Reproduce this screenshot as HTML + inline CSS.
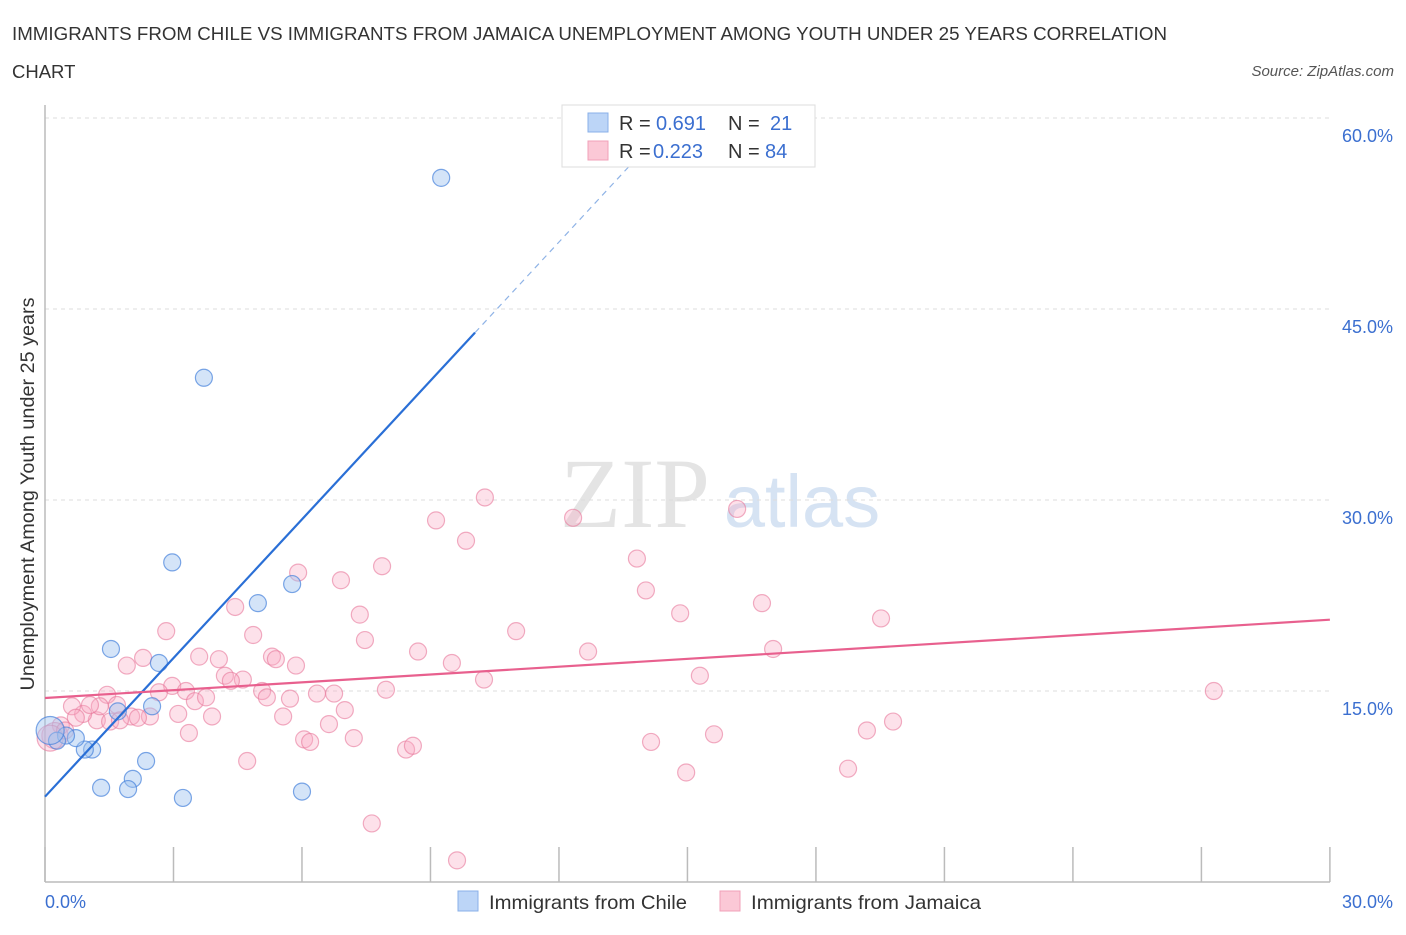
<!DOCTYPE html>
<html><head><meta charset="utf-8"><style>
body{margin:0;background:#fff;font-family:"Liberation Sans",sans-serif;}
svg text{font-family:"Liberation Sans",sans-serif;}
</style></head><body>
<svg width="1406" height="930" xmlns="http://www.w3.org/2000/svg">
<text x="12" y="40" font-size="18.5" fill="#333" textLength="1155" lengthAdjust="spacingAndGlyphs">IMMIGRANTS FROM CHILE VS IMMIGRANTS FROM JAMAICA UNEMPLOYMENT AMONG YOUTH UNDER 25 YEARS CORRELATION</text>
<text x="12" y="78" font-size="18.5" fill="#333">CHART</text>
<text x="1394" y="76" font-size="15" fill="#555" font-style="italic" text-anchor="end">Source: ZipAtlas.com</text>
<text x="635" y="527" font-size="100" fill="#e4e4e4" text-anchor="middle" style="font-family:'Liberation Serif',serif">ZIP</text>
<text x="802" y="527" font-size="74" fill="#d6e3f3" text-anchor="middle">atlas</text>
<g id="grid"></g>
<g id="axes"></g>
<g id="pts"></g>
<g id="lines"></g>
<text transform="translate(34,494) rotate(-90)" font-size="19" fill="#333" text-anchor="middle" textLength="393" lengthAdjust="spacingAndGlyphs">Unemployment Among Youth under 25 years</text>
<text x="45" y="908" font-size="18" fill="#3b6fd0">0.0%</text>
<text x="1393" y="908" font-size="18" fill="#3b6fd0" text-anchor="end">30.0%</text>
<g>
<rect x="562" y="105" width="253" height="62" fill="#fff" stroke="#ddd"/>
<rect x="588" y="113" width="20" height="19" fill="#bcd5f7" stroke="#8ab0e8"/>
<rect x="588" y="141" width="20" height="19" fill="#fbc8d6" stroke="#f0a0b8"/>
<text x="619" y="130" font-size="20" fill="#333">R =</text>
<text x="656" y="130" font-size="20" fill="#3b6fd0">0.691</text>
<text x="728" y="130" font-size="20" fill="#333">N =</text>
<text x="770" y="130" font-size="20" fill="#3b6fd0">21</text>
<text x="619" y="158" font-size="20" fill="#333">R =</text>
<text x="653" y="158" font-size="20" fill="#3b6fd0">0.223</text>
<text x="728" y="158" font-size="20" fill="#333">N =</text>
<text x="765" y="158" font-size="20" fill="#3b6fd0">84</text>
</g>
<g>
<rect x="458" y="891" width="20" height="20" fill="#bcd5f7" stroke="#8ab0e8"/>
<text x="489" y="909" font-size="19.5" fill="#333" textLength="198" lengthAdjust="spacingAndGlyphs">Immigrants from Chile</text>
<rect x="720" y="891" width="20" height="20" fill="#fbc8d6" stroke="#f0a0b8"/>
<text x="751" y="909" font-size="19.5" fill="#333" textLength="230" lengthAdjust="spacingAndGlyphs">Immigrants from Jamaica</text>
</g>
</svg>
<script>
const yTicks=[15,30,45,60];
const yTickLabels=["15.0%","30.0%","45.0%","60.0%"];
const xTicks=[0,3,6,9,12,15,18,21,24,27,30];
const chileX=[9.25,3.71,2.97,4.97,5.77,1.54,2.66,2.50,1.70,2.36,2.05,1.31,1.94,3.22,6.0,1.10,0.93,0.72,0.49,0.28,0.12];
const chileY=[55.3,39.6,25.1,21.9,23.4,18.3,17.2,13.8,13.4,9.5,8.1,7.4,7.3,6.6,7.1,10.4,10.4,11.3,11.5,11.1,11.9];
const jamX=[10.27,9.13,9.83,12.33,16.16,13.82,14.03,14.83,16.74,19.52,5.91,6.91,7.87,7.35,7.47,4.44,4.86,2.83,1.91,2.29,3.60,4.06,5.30,5.39,5.86,4.20,4.62,4.34,2.97,3.29,2.66,1.45,1.68,2.01,2.45,2.17,3.11,3.50,3.76,3.90,5.07,5.18,5.72,6.35,6.75,7.96,8.71,9.50,11.0,10.25,12.68,15.29,17.0,27.29,5.56,7.0,6.63,6.05,6.19,7.21,3.36,4.72,8.43,8.59,14.15,15.62,14.97,19.19,19.8,18.75,7.63,9.62,1.21,0.89,0.63,1.28,0.72,0.37,0.23,0.12,0.47,1.52,1.05,1.75];
const jamY=[30.2,28.4,26.8,28.6,29.3,25.4,22.9,21.1,21.9,20.7,24.3,23.7,24.8,21.0,19.0,21.6,19.4,19.7,17.0,17.6,17.7,17.5,17.7,17.5,17.0,16.2,15.9,15.8,15.4,15.0,14.9,14.7,13.9,13.0,13.0,12.9,13.2,14.2,14.5,13.0,15.0,14.5,14.4,14.8,14.8,15.1,18.1,17.2,19.7,15.9,18.1,16.2,18.3,15.0,13.0,13.5,12.4,11.2,11.0,11.3,11.7,9.5,10.4,10.7,11.0,11.6,8.6,11.9,12.6,8.9,4.6,1.7,12.7,13.2,13.8,13.8,12.9,12.3,11.5,11.3,11.9,12.6,13.9,12.7];
const chileTrend=[6.7,3.63];
const jamTrend=[14.45,0.205];
const NS="http://www.w3.org/2000/svg";
const X=v=>45+v*42.83, Y=v=>882-v*12.733;
function mk(tag,attrs,parent){const e=document.createElementNS(NS,tag);for(const k in attrs)e.setAttribute(k,attrs[k]);document.getElementById(parent).appendChild(e);return e;}
yTicks.forEach((t,i)=>{
 const l=mk('line',{x1:45,x2:1330,y1:Y(t),y2:Y(t),stroke:'#ddd','stroke-dasharray':'4,4'},'grid');
 
 
 const tx=mk('text',{x:1393,y:Y(t)+24,'font-size':18,fill:'#3b6fd0','text-anchor':'end'},'grid');
 tx.textContent=yTickLabels[i];
 
 
});
const ax=mk('line',{x1:45,x2:45,y1:105,y2:882,stroke:'#bbb','stroke-width':1.5},'axes');


const bx=mk('line',{x1:45,x2:1330,y1:882,y2:882,stroke:'#bbb','stroke-width':1.5},'axes');


xTicks.forEach(t=>{const l=mk('line',{x1:X(t),x2:X(t),y1:847,y2:882,stroke:'#bbb','stroke-width':1.5},'axes');
 
 });
jamX.forEach((v,i)=>{const c=mk('circle',{cx:X(v),cy:Y(jamY[i]),r:i>=78&&i<=79?13:8.5,fill:'rgba(248,170,195,0.35)',stroke:'rgba(232,120,155,0.6)','stroke-width':1.2},'pts');
 
 });
chileX.forEach((v,i)=>{const c=mk('circle',{cx:X(v),cy:Y(chileY[i]),r:i===20?14:8.5,fill:'rgba(160,195,240,0.45)',stroke:'rgba(70,130,220,0.7)','stroke-width':1.2},'pts');
 
 });
const f=(t,x)=>t[0]+t[1]*x;
const l1=mk('line',{x1:X(0),y1:Y(f(chileTrend,0)),x2:X(10.04),y2:Y(f(chileTrend,10.04)),stroke:'#2a6fd6','stroke-width':2.2},'lines');


const l2=mk('line',{x1:X(10.04),y1:Y(f(chileTrend,10.04)),x2:X(13.66),y2:Y(f(chileTrend,13.66)),stroke:'#8fb3e6','stroke-width':1.2,'stroke-dasharray':'6,5'},'lines');


const l3=mk('line',{x1:X(0),y1:Y(f(jamTrend,0)),x2:X(30),y2:Y(f(jamTrend,30)),stroke:'#e8608e','stroke-width':2.2},'lines');


</script>
</body></html>
